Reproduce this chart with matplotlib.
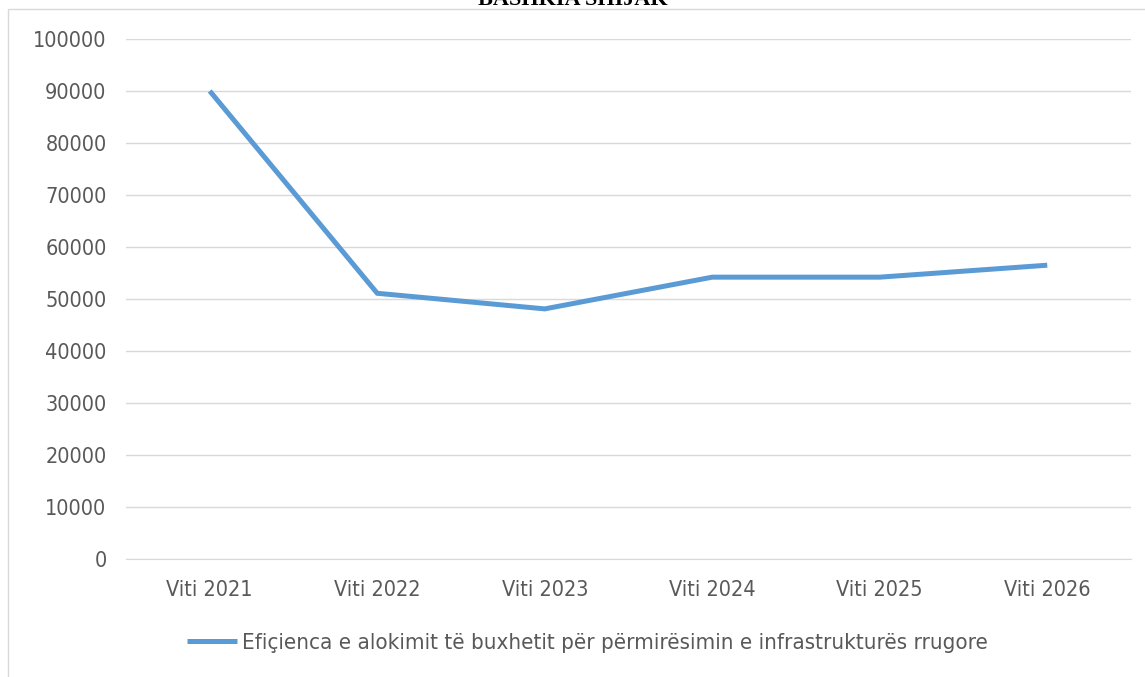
import matplotlib.pyplot as plt
from matplotlib.patches import Rectangle

years = ['Viti 2021', 'Viti 2022', 'Viti 2023', 'Viti 2024', 'Viti 2025', 'Viti 2026']
values = [90000, 51100, 48100, 54200, 54200, 56500]
series_name = 'Efiçienca e alokimit të buxhetit për përmirësimin e infrastrukturës rrugore'

plt.rcParams['font.family'] = 'DejaVu Sans'
plt.rcParams['font.stretch'] = 'condensed'

fig = plt.figure(figsize=(11.45, 6.77), dpi=100)
ax = fig.add_axes([126/1145, 1-559/677, (1131-126)/1145, (559-39)/677])

# chart area border
fig.patches.append(Rectangle((8/1145, -0.05), 1.2, 1-9/677+0.05, transform=fig.transFigure,
                             fill=False, edgecolor='#D9D9D9', linewidth=1))

x = list(range(len(years)))
ax.plot(x, values, color='#5B9BD5', linewidth=3.6, solid_capstyle='butt', solid_joinstyle='miter',
        label=series_name)

ax.set_xlim(-0.5, len(years) - 0.5)
ax.set_ylim(0, 100000)
ax.set_yticks(range(0, 100001, 10000))
ax.set_xticks(x)
ax.set_xticklabels(years)
ax.yaxis.grid(True, color='#D9D9D9', linewidth=1)
ax.set_axisbelow(True)
for s in ['top', 'right', 'left']:
    ax.spines[s].set_visible(False)
ax.spines['bottom'].set_color('#D9D9D9')
ax.tick_params(axis='both', length=0, labelsize=15.5, colors='#595959')
ax.tick_params(axis='x', pad=15)
ax.tick_params(axis='y', pad=14)

# title is clipped at the top edge in the original
fig.text(0.5, 1.0, 'BASHKIA SHIJAK', ha='center', va='center', fontsize=16,
         fontweight='bold', family='Liberation Serif', color='#000000')

fig.legend(loc='center', bbox_to_anchor=(0.513, 1-643/677), frameon=False, fontsize=16,
           labelcolor='#595959', handlelength=2.25, handletextpad=0.25)

fig.savefig('out.png', dpi=100)
